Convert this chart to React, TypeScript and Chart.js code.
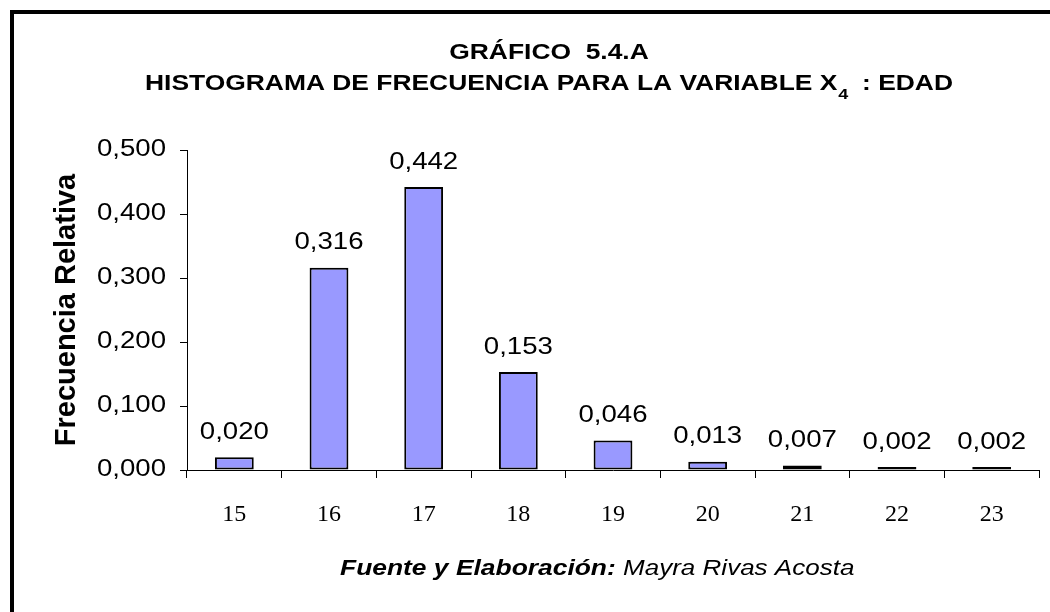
import React, { useEffect, useRef } from 'react';
import { Chart, registerables } from 'chart.js';

Chart.register(...registerables);

// ---- data ----
const categories: string[] = ['15', '16', '17', '18', '19', '20', '21', '22', '23'];
const frequencies: number[] = [0.02, 0.316, 0.442, 0.153, 0.046, 0.013, 0.007, 0.002, 0.002];
const yTicks: number[] = [0, 0.1, 0.2, 0.3, 0.4, 0.5];

// ---- texts ----
const titleLine1 = 'GRÁFICO  5.4.A';
const titleLine2Main = 'HISTOGRAMA DE FRECUENCIA PARA LA VARIABLE X';
const titleLine2Sub = '4';
const titleLine2End = '  : EDAD';
const yAxisTitle = 'Frecuencia Relativa';
const sourceBold = 'Fuente y Elaboración:';
const sourceText = ' Mayra Rivas Acosta';

const SANS = '"Liberation Sans", Arial, sans-serif';
const SERIF = '"Liberation Serif", "Times New Roman", serif';
const STRETCH = 1.2;

const fmt = (v: number) => v.toFixed(3).replace('.', ',');

function patchStretch(ctx: CanvasRenderingContext2D) {
  const anyCtx = ctx as any;
  if (anyCtx.__stretched) return;
  anyCtx.__stretched = true;
  const orig = ctx.fillText.bind(ctx);
  anyCtx.fillText = (text: string, x: number, y: number, maxWidth?: number) => {
    const t = ctx.getTransform();
    const rotated = Math.abs(t.b) > 1e-6 || Math.abs(t.c) > 1e-6;
    if (rotated || /Serif/.test(ctx.font)) {
      if (maxWidth === undefined) orig(text, x, y);
      else orig(text, x, y, maxWidth);
      return;
    }
    ctx.save();
    ctx.translate(x, y);
    ctx.scale(STRETCH, 1);
    if (maxWidth === undefined) orig(text, 0, 0);
    else orig(text, 0, 0, maxWidth / STRETCH);
    ctx.restore();
  };
}

const decorPlugin = {
  id: 'decor',
  afterDatasetsDraw(chart: any) {
    const ctx: CanvasRenderingContext2D = chart.ctx;
    const meta = chart.getDatasetMeta(0);
    ctx.save();
    ctx.font = `23px ${SANS}`;
    ctx.fillStyle = '#000';
    ctx.textAlign = 'center';
    ctx.textBaseline = 'alphabetic';
    meta.data.forEach((bar: any, i: number) => {
      ctx.fillText(fmt(frequencies[i]), bar.x, bar.y - 18.5);
    });
    ctx.restore();
  },
  afterDraw(chart: any) {
    const ctx: CanvasRenderingContext2D = chart.ctx;
    ctx.save();
    // frame
    ctx.strokeStyle = '#000';
    ctx.lineWidth = 4;
    ctx.strokeRect(12, 12, 1100, 700);

    // title
    ctx.fillStyle = '#000';
    ctx.textBaseline = 'alphabetic';
    const cx = 549;
    ctx.font = `bold 22px ${SANS}`;
    ctx.textAlign = 'center';
    ctx.fillText(titleLine1, cx, 59);

    ctx.textAlign = 'left';
    ctx.font = `bold 22px ${SANS}`;
    const w1 = ctx.measureText(titleLine2Main).width * STRETCH;
    const w3 = ctx.measureText(titleLine2End).width * STRETCH;
    ctx.font = `bold 15px ${SANS}`;
    const w2 = ctx.measureText(titleLine2Sub).width * STRETCH;
    const start = cx - (w1 + w2 + w3) / 2;
    ctx.font = `bold 22px ${SANS}`;
    ctx.fillText(titleLine2Main, start, 90);
    ctx.fillText(titleLine2End, start + w1 + w2, 90);
    ctx.font = `bold 15px ${SANS}`;
    ctx.fillText(titleLine2Sub, start + w1 + 1, 99);

    // source
    ctx.font = `italic bold 22px ${SANS}`;
    const sx = 340;
    ctx.fillText(sourceBold, sx, 575);
    const wb = ctx.measureText(sourceBold).width * STRETCH;
    ctx.font = `italic 21.7px ${SANS}`;
    ctx.fillText(sourceText, sx + wb, 575);
    ctx.restore();
  },
};

export default function App() {
  const canvasRef = useRef<HTMLCanvasElement | null>(null);

  useEffect(() => {
    const canvas = canvasRef.current;
    if (!canvas) return;
    const ctx = canvas.getContext('2d');
    if (!ctx) return;
    patchStretch(ctx);

    const chart = new Chart(ctx, {
      type: 'bar',
      data: {
        labels: categories,
        datasets: [
          {
            data: frequencies,
            backgroundColor: '#9999FF',
            borderColor: '#000000',
            borderWidth: 2,
            borderSkipped: false,
            barPercentage: 0.41,
            categoryPercentage: 1.0,
            minBarLength: 3,
          },
        ],
      },
      options: {
        responsive: false,
        animation: false,
        devicePixelRatio: 1,
        layout: { padding: { left: 20, top: 150, right: 11, bottom: 0 } },
        plugins: {
          legend: { display: false },
          tooltip: { enabled: false },
          title: { display: false },
        },
        scales: {
          x: {
            ticks: {
              font: { family: SERIF, size: 24 },
              color: '#000',
              padding: 22,
              maxRotation: 0,
              autoSkip: false,
            },
            grid: {
              display: true,
              drawOnChartArea: false,
              drawTicks: true,
              tickLength: 8,
              color: '#000',
              offset: true,
            },
            border: { display: true, color: '#000', width: 1 },
            afterFit: (s: any) => {
              s.height = 142;
            },
          },
          y: {
            min: 0,
            max: 0.5,
            afterBuildTicks: (s: any) => {
              s.ticks = yTicks.map((v) => ({ value: v }));
            },
            ticks: {
              callback: (v: any) => fmt(Number(v)),
              font: { family: SANS, size: 23 },
              color: '#000',
              padding: 14,
            },
            grid: {
              display: true,
              drawOnChartArea: false,
              drawTicks: true,
              tickLength: 7,
              color: '#000',
            },
            border: { display: true, color: '#000', width: 1 },
            title: {
              display: true,
              text: yAxisTitle,
              color: '#000',
              font: { family: SANS, size: 29, weight: 'bold' },
              padding: { top: 30, bottom: 0 },
            },
            afterFit: (s: any) => {
              s.width = 167;
            },
          },
        },
      } as any,
      plugins: [decorPlugin],
    });

    return () => {
      chart.destroy();
    };
  }, []);

  return (
    <div style={{ position: 'absolute', left: 0, top: 0, width: 1050, height: 612, background: '#fff' }}>
      <canvas ref={canvasRef} width={1050} height={612} />
    </div>
  );
}
